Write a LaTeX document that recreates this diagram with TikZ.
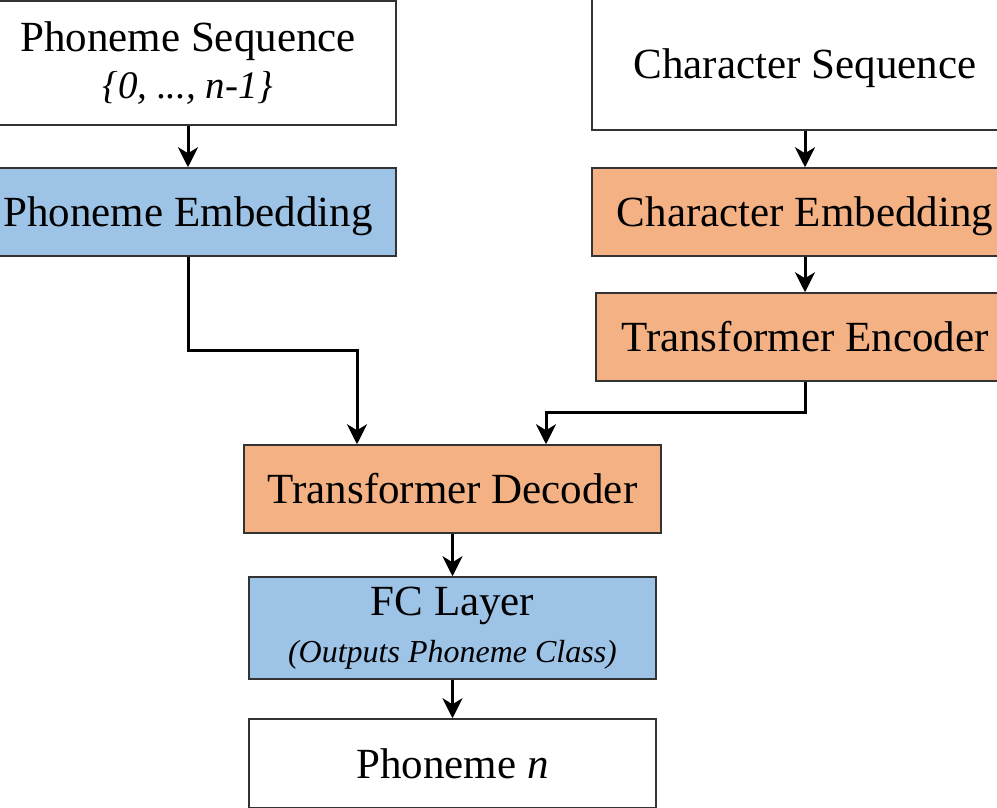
\documentclass[tikz,border=0pt]{standalone}
\usepackage{fontspec}
\setmainfont{Liberation Serif}
\usetikzlibrary{arrows.meta}
\definecolor{boxblue}{HTML}{9DC3E6}
\definecolor{boxorange}{HTML}{F4B183}
\definecolor{boxline}{HTML}{333333}
\tikzset{
    whitenode/.style={
        rectangle,
        draw=boxline, % 边框颜色
        fill=white,
        line width=1.5pt,
        inner sep=0,
        align=center,
        font=\fontsize{43}{47}\selectfont
    },
    bluenode/.style={
        whitenode,
        fill=boxblue % 填充颜色为蓝色
    },
    orangenode/.style={
        whitenode,
        fill=boxorange % 填充颜色为橙色
    },
    oneline/.style={
        text height=29pt,
        text depth=0pt
    },
    arrowline/.style={
        draw=black,
        line width=3pt,
        -{Stealth[length=20pt,width=20pt,inset=6pt]}
    }
}
\begin{document}
\begin{tikzpicture}[x=1pt,y=-1pt]
            \useasboundingbox (0,0) rectangle (997,808);
            \clip (0,0) rectangle (997,808);
            % left column
            \node[whitenode, minimum width=416pt, minimum height=124pt] (pseq) at (188,63)
                {Phoneme Sequence\\[0pt]{\fontsize{39}{42}\selectfont\itshape\{0, ..., n-1\}}};
            \node[bluenode, oneline, minimum width=416pt, minimum height=88pt] (pemb) at (188,212) {Phoneme Embedding};
            % right column
            \node[whitenode, oneline, minimum width=426pt, minimum height=132pt] (cseq) at (805,64) {Character Sequence};
            \node[orangenode, oneline, minimum width=426pt, minimum height=88pt] (cemb) at (805,212) {Character Embedding};
            \node[orangenode, oneline, minimum width=418pt, minimum height=88pt] (tenc) at (805,337) {Transformer Encoder};
            % middle column
            \node[orangenode, oneline, minimum width=417pt, minimum height=88pt] (tdec) at (452.5,489) {Transformer Decoder};
            \node[bluenode, minimum width=407pt, minimum height=102pt] (fc) at (452.5,628)
                {FC Layer\\[0pt]{\fontsize{32}{36}\selectfont\itshape(Outputs Phoneme Class)}};
            \node[whitenode, oneline, minimum width=407pt, minimum height=89pt] (pout) at (452.5,763.5) {Phoneme \textit{n}};
            % connectors
            \coordinate (decin1) at ([xshift=-95.5pt]tdec.north);
            \coordinate (decin2) at ([xshift=93.5pt]tdec.north);
            \draw[arrowline] (pseq) -- (pemb);
            \draw[arrowline] (cseq) -- (cemb);
            \draw[arrowline] (cemb) -- (tenc);
            \draw[arrowline] (pemb.south) -- ++(0,94) -| (decin1);
            \draw[arrowline] (tenc.south) -- ++(0,31) -| (decin2);
            \draw[arrowline] (tdec) -- (fc);
            \draw[arrowline] (fc) -- (pout);
            \end{tikzpicture}
\end{document}
